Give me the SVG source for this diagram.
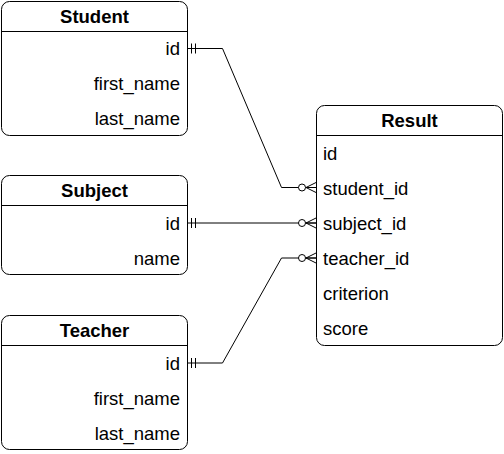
<svg xmlns="http://www.w3.org/2000/svg" width="504" height="454" viewBox="0 0 504 454">
<defs>
<style>
.box{fill:#fff;stroke:#000;stroke-width:1}
.sep{stroke:#000;stroke-width:1}
.t{font-family:"Liberation Sans",Arial,Helvetica,sans-serif;font-size:18.5px;fill:#000}
.h{font-weight:bold;text-anchor:middle}
.r{text-anchor:end}
.edge{fill:none;stroke:#000;stroke-width:1}
</style>
<marker id="one" markerUnits="userSpaceOnUse" markerWidth="14" markerHeight="14" refX="0" refY="7" orient="auto" viewBox="0 0 14 14">
<path d="M4 2V12M8 2V12" stroke="#000" stroke-width="1" fill="none"/>
</marker>
<marker id="many" markerUnits="userSpaceOnUse" markerWidth="20" markerHeight="14" refX="20" refY="7" orient="auto" viewBox="0 0 20 14">
<circle cx="6" cy="7" r="3.5" fill="#fff" stroke="#000" stroke-width="1"/>
<path d="M20 2L10 7L20 12M10 7H20" stroke="#000" stroke-width="1" fill="none"/>
</marker>
</defs>
<g id="connectors">
<path class="edge" d="M187.5 48.5H222.5L281.5 187.5H316" marker-start="url(#one)" marker-end="url(#many)"/>
<path class="edge" d="M187.5 223H316" marker-start="url(#one)" marker-end="url(#many)"/>
<path class="edge" d="M187.5 363H222.5L281.5 258H316" marker-start="url(#one)" marker-end="url(#many)"/>
</g>
<g id="student">
<rect class="box" x="1.5" y="1.5" width="186" height="134" rx="8"/>
<line class="sep" x1="1.5" y1="31.5" x2="187.5" y2="31.5"/>
<text class="t h" x="94.5" y="23">Student</text>
<text class="t r" x="180" y="55">id</text>
<text class="t r" x="180" y="90">first_name</text>
<text class="t r" x="180" y="125">last_name</text>
</g>
<g id="subject">
<rect class="box" x="1.5" y="175.5" width="186" height="99" rx="8"/>
<line class="sep" x1="1.5" y1="205.5" x2="187.5" y2="205.5"/>
<text class="t h" x="94.5" y="197">Subject</text>
<text class="t r" x="180" y="229.5">id</text>
<text class="t r" x="180" y="264.5">name</text>
</g>
<g id="teacher">
<rect class="box" x="1.5" y="315.5" width="186" height="134" rx="8"/>
<line class="sep" x1="1.5" y1="345.5" x2="187.5" y2="345.5"/>
<text class="t h" x="94.5" y="337">Teacher</text>
<text class="t r" x="180" y="369.5">id</text>
<text class="t r" x="180" y="404.5">first_name</text>
<text class="t r" x="180" y="439.5">last_name</text>
</g>
<g id="result">
<rect class="box" x="316.5" y="105.5" width="186" height="240" rx="8"/>
<line class="sep" x1="316.5" y1="135.5" x2="502.5" y2="135.5"/>
<text class="t h" x="409.5" y="127">Result</text>
<text class="t" x="323" y="159.5">id</text>
<text class="t" x="323" y="194.5">student_id</text>
<text class="t" x="323" y="229.5">subject_id</text>
<text class="t" x="323" y="264.5">teacher_id</text>
<text class="t" x="323" y="299.5">criterion</text>
<text class="t" x="323" y="334.5">score</text>
</g>
</svg>
